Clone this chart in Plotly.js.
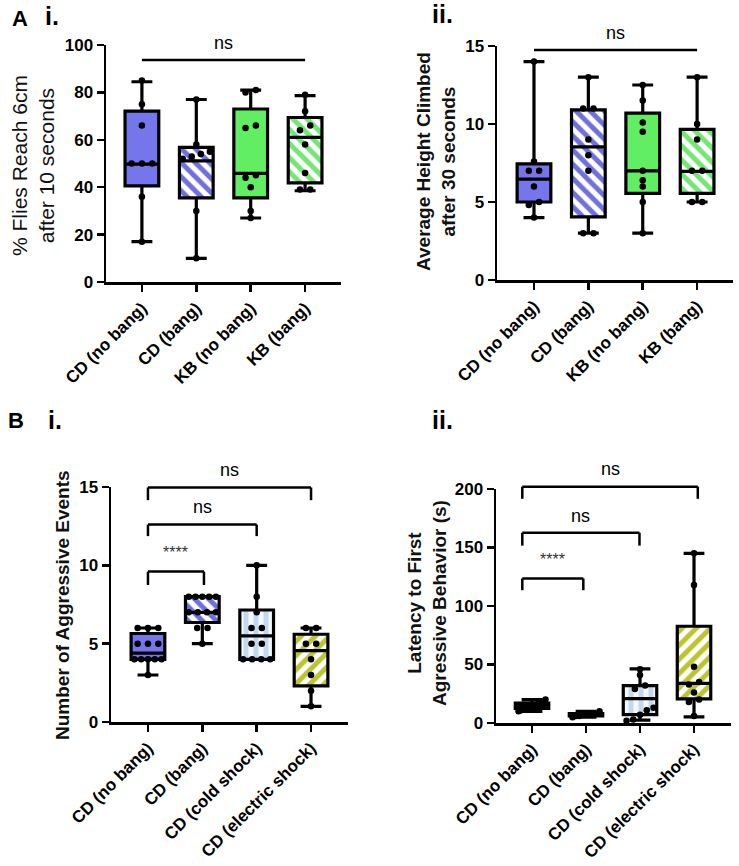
<!DOCTYPE html>
<html>
<head>
  <meta charset="UTF-8" />
  <script src="https://cdn.plot.ly/plotly-3.0.1.min.js"></script>
  <style>
    body { margin: 0; background: #fff; }
    #chart { width: 739px; height: 866px; }
  </style>
</head>
<body>
  <div id="chart"></div>
  <script>
    // categories
    const catsA = ['CD (no bang)', 'CD (bang)', 'KB (no bang)', 'KB (bang)'];
    const catsB = ['CD (no bang)', 'CD (bang)', 'CD (cold shock)', 'CD (electric shock)'];

    // A i - % flies reaching 6cm after 10 s
    const reachMin = [17, 10, 27, 38.5];
    const reachQ1 = [40.6, 35.5, 35.5, 41.8];
    const reachMed = [49.7, 51.1, 45.8, 61];
    const reachQ3 = [72.1, 56.8, 73, 69.4];
    const reachMax = [84.5, 77, 81, 78.6];
    const reachPts = [
      [85, 75, 66, 50, 50, 50, 36, 17],
      [77, 58, 55, 54, 53, 52, 30, 10],
      [81, 80, 66, 65, 45, 44, 40, 30, 27],
      [79, 72, 66, 64, 58, 46, 39, 39]
    ];

    // A ii - average height climbed after 30 s
    const heightMin = [4, 3, 3, 5];
    const heightQ1 = [5, 4.05, 5.55, 5.55];
    const heightMed = [6.46, 8.53, 7, 6.96];
    const heightQ3 = [7.45, 10.9, 10.7, 9.65];
    const heightMax = [14, 13, 12.5, 13];
    const heightPts = [
      [14, 7.6, 7, 7, 6, 5, 4.8, 4],
      [13, 11, 11, 9, 8, 7, 3, 3],
      [12.5, 11.5, 10.1, 9.5, 7, 6.4, 6, 5, 3],
      [13, 10, 9, 7, 7, 5, 5]
    ];

    // B i - number of aggressive events
    const aggMin = [3, 5, 4, 1];
    const aggQ1 = [4, 6.35, 4, 2.3];
    const aggMed = [4.4, 7, 5.5, 4.55];
    const aggQ3 = [5.65, 8, 7.15, 5.6];
    const aggMax = [6, 8, 10, 6];
    const aggPts = [
      [6, 6, 6, 5, 5, 5, 4, 4, 4, 4, 4, 3],
      [8, 8, 8, 8, 8, 7, 7, 7, 7, 6, 6, 5],
      [10, 8, 7, 6, 6, 5, 5, 4, 4, 4, 4],
      [6, 6, 5, 5, 4, 3, 2, 1]
    ];

    // B ii - latency to first aggressive behavior (s)
    const latMin = [10, 5, 2.4, 5.3];
    const latQ1 = [12.5, 6, 7.2, 20.7];
    const latMed = [15, 7, 20.9, 33.8];
    const latQ3 = [17, 8, 32, 82.7];
    const latMax = [20, 10, 46.2, 145];
    const latPts = [
      [20, 18, 17, 16, 15, 15, 14, 13, 12, 11, 10],
      [10, 8, 8, 7, 7, 7, 6, 6, 5],
      [46, 41, 32, 29, 13, 11, 7, 3, 2],
      [145, 118, 48, 35, 33, 26, 20, 18, 6]
    ];

    // fills: solid colour or hatch pattern per box
    const BLUE = '#7676ec', GREEN = '#62ee62';
    const fillsA = [
      { color: BLUE },
      { hatch: '\\', fg: '#7070e0', bg: '#ffffff' },
      { color: GREEN },
      { hatch: '\\', fg: '#74e674', bg: '#ffffff' }
    ];
    const fillsB = [
      { color: BLUE },
      { hatch: '\\', fg: '#7070e0', bg: '#ffffff' },
      { hatch: '|', fg: '#c3d8ef', bg: '#f3f8fd' },
      { hatch: '/', fg: '#bcc52e', bg: '#ffffff' }
    ];

    const W = 739, H = 866;
    const px = x => x / W;
    const py = y => 1 - y / H;
    const FONT = 'Liberation Sans, Arial, sans-serif';

    // spread tied / very close points sideways like a scatter dot plot
    function spreadX(vals, center, tol, step) {
      const idx = vals.map((v, i) => i).sort((a, b) => vals[a] - vals[b]);
      const xs = new Array(vals.length);
      let start = 0;
      while (start < idx.length) {
        let end = start;
        while (end + 1 < idx.length && vals[idx[end + 1]] - vals[idx[end]] <= tol) end++;
        const m = end - start + 1;
        const s = m > 1 ? Math.min(step, 0.5 / (m - 1)) : 0;
        for (let k = 0; k < m; k++) xs[idx[start + k]] = center + (k - (m - 1) / 2) * s;
        start = end + 1;
      }
      return xs;
    }

    const traces = [];
    function addPanel(ax, mn, q1, med, q3, mx, pts, fills, tol) {
      const xa = 'x' + ax, ya = 'y' + ax;
      for (let i = 0; i < 4; i++) {
        const f = fills[i];
        if (f.hatch) {
          traces.push({
            type: 'bar', x: [i], y: [q3[i] - q1[i]], base: [q1[i]], width: [0.62],
            xaxis: xa, yaxis: ya, showlegend: false, hoverinfo: 'skip',
            marker: { color: f.bg, line: { width: 0 },
              pattern: { shape: f.hatch, fgcolor: f.fg, bgcolor: f.bg, size: 10, solidity: 0.5 } }
          });
        }
        traces.push({
          type: 'box', x: [i], q1: [q1[i]], median: [med[i]], q3: [q3[i]],
          lowerfence: [mn[i]], upperfence: [mx[i]], orientation: 'v',
          xaxis: xa, yaxis: ya, width: 0.62, whiskerwidth: 0.62, boxpoints: false,
          fillcolor: f.hatch ? 'rgba(0,0,0,0)' : f.color,
          line: { color: '#000', width: 3.2 }, showlegend: false, hoverinfo: 'skip'
        });
        traces.push({
          type: 'scatter', mode: 'markers', x: spreadX(pts[i], i, tol, 0.19), y: pts[i],
          xaxis: xa, yaxis: ya, showlegend: false, hoverinfo: 'skip', cliponaxis: false,
          marker: { color: '#000', size: 6.5 }
        });
      }
    }
    addPanel('', reachMin, reachQ1, reachMed, reachQ3, reachMax, reachPts, fillsA, 2);
    addPanel('2', heightMin, heightQ1, heightMed, heightQ3, heightMax, heightPts, fillsA, 0.3);
    addPanel('3', aggMin, aggQ1, aggMed, aggQ3, aggMax, aggPts, fillsB, 0.3);
    addPanel('4', latMin, latQ1, latMed, latQ3, latMax, latPts, fillsB, 4);

    const tickFont = { family: FONT, size: 17, weight: 'bold', color: '#000' };
    function xAxis(x0, x1, r, cats, anchor) {
      return {
        domain: [px(x0), px(x1)], range: r, anchor: anchor,
        tickmode: 'array', tickvals: [0, 1, 2, 3], ticktext: cats, tickangle: -45,
        showline: true, linecolor: '#000', linewidth: 2.5, ticks: 'outside',
        ticklen: 7, tickwidth: 2.5, tickcolor: '#000', tickfont: tickFont,
        showgrid: false, zeroline: false, automargin: false
      };
    }
    function yAxis(yTop, yBot, r, dtick, anchor) {
      return {
        domain: [py(yBot), py(yTop)], range: r, dtick: dtick, anchor: anchor,
        showline: true, linecolor: '#000', linewidth: 2.5, ticks: 'outside',
        ticklen: 7, tickwidth: 2.5, tickcolor: '#000', tickfont: tickFont,
        showgrid: false, zeroline: false, automargin: false
      };
    }

    const shapes = [];
    const annotations = [];
    const line = { color: '#000', width: 2.5 };
    // significance line or bracket, y given as a fraction of the axis height
    function bracket(ax, x0, x1, y, drop, label, labelX, labelY, small) {
      const xr = 'x' + ax, yr = 'y' + ax + ' domain';
      shapes.push({ type: 'line', xref: xr, yref: yr, x0: x0, x1: x1, y0: y, y1: y, line: line });
      if (drop !== null) {
        shapes.push({ type: 'line', xref: xr, yref: yr, x0: x0, x1: x0, y0: y, y1: drop, line: line });
        shapes.push({ type: 'line', xref: xr, yref: yr, x0: x1, x1: x1, y0: y, y1: drop, line: line });
      }
      annotations.push({
        xref: xr, yref: yr, x: labelX, y: labelY, text: label, showarrow: false,
        xanchor: 'center', yanchor: 'middle',
        font: { family: FONT, size: small ? 16 : 18, color: small ? '#333' : '#000' }
      });
    }
    bracket('', 0, 3, 0.937, null, 'ns', 1.5, 1.01);
    bracket('2', 0, 3, 0.983, null, 'ns', 1.5, 1.055);
    bracket('3', 0, 3, 0.998, 0.944, 'ns', 1.5, 1.073);
    bracket('3', 0, 2, 0.84, 0.791, 'ns', 1.0, 0.913);
    bracket('3', 0, 1.03, 0.64, 0.583, '****', 0.5, 0.72, true);
    bracket('4', -0.18, 3.07, 1.01, 0.958, 'ns', 1.45, 1.085);
    bracket('4', -0.18, 1.99, 0.813, 0.758, 'ns', 0.9, 0.885);
    bracket('4', -0.18, 0.95, 0.6175, 0.5675, '****', 0.38, 0.70, true);

    // y-axis titles
    function yTitle(x, y, text, bold, size) {
      annotations.push({
        xref: 'paper', yref: 'paper', x: px(x), y: py(y), text: text, textangle: -90,
        showarrow: false, xanchor: 'center', yanchor: 'middle',
        font: { family: FONT, size: size, weight: bold ? 'bold' : 'normal', color: '#111' }
      });
    }
    yTitle(33, 166, '% Flies Reach 6cm<br>after 10 seconds', false, 21);
    yTitle(436, 162, 'Average Height Climbed<br>after 30 seconds', true, 19);
    yTitle(62, 605, 'Number of Aggressive Events', true, 19);
    yTitle(427, 603, 'Latency to First<br>Agressive Behavior (s)', true, 19);

    // panel letters
    function letter(x, y, text, size) {
      annotations.push({
        xref: 'paper', yref: 'paper', x: px(x), y: py(y), text: text, showarrow: false,
        xanchor: 'left', yanchor: 'middle',
        font: { family: FONT, size: size, weight: 'bold', color: '#000' }
      });
    }
    letter(10, 18, 'A', 22);
    letter(43, 16, 'i.', 25);
    letter(430, 14, 'ii.', 25);
    letter(6, 420, 'B', 22);
    letter(46, 420, 'i.', 25);
    letter(430, 420, 'ii.', 25);

    const layout = {
      width: W, height: H, margin: { l: 0, r: 0, t: 0, b: 0 },
      paper_bgcolor: '#fff', plot_bgcolor: 'rgba(0,0,0,0)',
      showlegend: false, barmode: 'overlay', boxmode: 'overlay',
      xaxis: xAxis(106, 341, [-0.66, 3.66], catsA, 'y'),
      yaxis: yAxis(45, 282, [0, 100], 20, 'x'),
      xaxis2: xAxis(497, 733, [-0.68, 3.66], catsA, 'y2'),
      yaxis2: yAxis(46, 280, [0, 15], 5, 'x2'),
      xaxis3: xAxis(111, 348, [-0.68, 3.68], catsB, 'y3'),
      yaxis3: yAxis(487, 722, [0, 15], 5, 'x3'),
      xaxis4: xAxis(496, 731, [-0.667, 3.685], catsB, 'y4'),
      yaxis4: yAxis(489, 723, [0, 200], 50, 'x4'),
      shapes: shapes,
      annotations: annotations
    };

    Plotly.newPlot('chart', traces, layout, { displayModeBar: false, staticPlot: true });
  </script>
</body>
</html>
